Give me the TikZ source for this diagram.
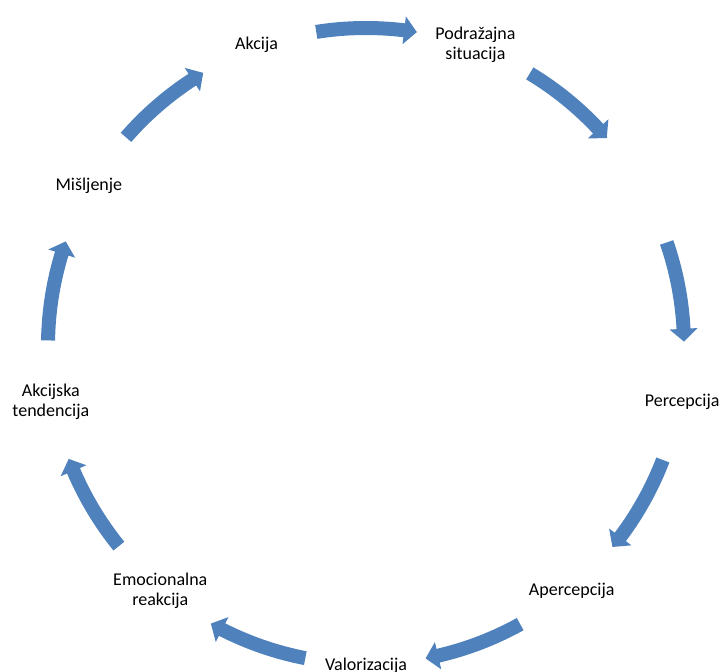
\documentclass[tikz,border=0pt]{standalone}
\usepackage{fontspec}
\setmainfont{Carlito}
\definecolor{arrowblue}{HTML}{4F81BD}
\begin{document}
\begin{tikzpicture}[x=0.75pt,y=0.75pt,
  lbl/.style={align=center,font=\fontsize{13.5}{15}\selectfont,text=black,inner sep=0pt},
  arrowfill/.style={fill=arrowblue}]
\useasboundingbox (0,0) rectangle (724,671);
% labels
\node[lbl] (akcija) at ([shift={(366,325)}]110:320) {Akcija};
\node[lbl] (podrazajna) at ([shift={(366,325)}]70:320) {Podražajna\\situacija};
\node[lbl] (prazno) at ([shift={(366,325)}]30:320) {};
\node[lbl] (percepcija) at ([shift={(367,325)}]-10:320) {Percepcija};
\node[lbl] (apercepcija) at ([shift={(366,325)}]-50:320) {Apercepcija};
\node[lbl] (valorizacija) at ([shift={(366,325)}]-90:320) {Valorizacija};
\node[lbl] (emocionalna) at ([shift={(366,325)}]-130:320) {Emocionalna\\reakcija};
\node[lbl] (akcijska) at ([shift={(366,325)}]-170:320) {Akcijska\\tendencija};
\node[lbl] (misljenje) at ([shift={(366,325)}]150:320) {Mišljenje};
% circular block arrows
\foreach \m in {90,50,10,-30,-70,-110,-150,170,130} {
  \fill[arrowfill,shift={(366,325)}]
    (\m+9:311) arc[start angle=\m+9, end angle=\m-6.9, radius=311]
    -- (\m-6.9:304) -- (\m-9.2:318) -- (\m-6.9:332) -- (\m-6.9:325)
    arc[start angle=\m-6.9, end angle=\m+9, radius=325] -- cycle;
}
\end{tikzpicture}
\end{document}
